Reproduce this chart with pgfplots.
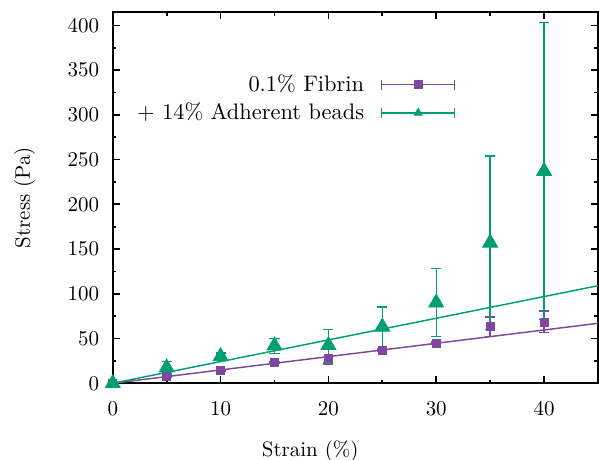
\documentclass[border=0pt]{standalone}
\usepackage{pgfplots}
\pgfplotsset{compat=1.18}
\definecolor{fib}{RGB}{126,72,160}
\definecolor{bead}{RGB}{0,158,115}
\pgfplotstableread{
x y ep em
0 0 0 0
5 8 1 1
10 14 1 1
15 23 1 1
20 28 10 7
25 37 1 1
30 45 1 1
35 63 11 11
40 68 13 11
}\fibrin
\pgfplotstableread{
x y ep em
0 0 0 0
5 17.5 7 7
10 30 4 4
15 42 8 9
20 42.5 17.5 20
25 63 22 24
30 90 38 38
35 157 97 97
40 237 166 166
}\beads
\begin{document}
\begin{tikzpicture}
\begin{axis}[name=ax, scale only axis, width=231.4pt, height=177.1pt,
 xmin=0, xmax=45, ymin=0, ymax=415,
 xtick={0,10,...,40}, minor xtick={5,15,...,45},
 ytick={0,50,...,400}, minor ytick={25,75,...,400},
 tick align=inside, xtick pos=both, ytick pos=both,
 major tick length=3.4pt, minor tick length=1.7pt,
 every tick/.style={black, line width=0.8pt},
 axis line style={line width=1pt},
 xlabel={Strain (\%)}, ylabel={Stress (Pa)},
 xlabel style={at={(rel axis cs:0.407,0)}, anchor=center, yshift=-32.6pt},
 ylabel style={at={(rel axis cs:-0.1815,0.5)}, anchor=center},
 xticklabel style={yshift=-5.5pt}, yticklabel style={xshift=-3pt},
 legend plot pos=right, legend cell align=right,
 legend style={draw=none, fill=none, at={(rel axis cs:0.72,0.855)}, anchor=north east, row sep=0pt,
   font=\fontsize{10.7}{12.5}\selectfont,
   /tikz/every odd column/.append style={column sep=6pt}},
]
\addplot[fib, line width=0.7pt, forget plot] coordinates {(0,0) (45,67)};
\addplot[bead, line width=0.7pt, forget plot] coordinates {(0,0) (45,109)};
\addplot[fib, only marks, mark=square*, mark size=1.9pt,
  error bars/.cd, y dir=both, y explicit,
  error bar style={line width=0.7pt}, error mark options={rotate=90, mark size=2.4pt, line width=0.7pt},
  /pgfplots/legend image code/.code={
    \draw[mark=none, line width=0.7pt] (0pt,0pt) -- (34.8pt,0pt) (0pt,-2.4pt) -- (0pt,2.4pt) (34.8pt,-2.4pt) -- (34.8pt,2.4pt);
    \draw[mark repeat=2, mark phase=2] plot coordinates {(0pt,0pt) (17.4pt,0pt) (34.8pt,0pt)};
  }]
  table[x=x, y=y, y error plus=ep, y error minus=em] {\fibrin};
\addlegendentry{0.1\% Fibrin}
\addplot[bead, only marks, mark=triangle*, mark size=4.1pt,
  error bars/.cd, y dir=both, y explicit,
  error bar style={line width=0.7pt}, error mark options={rotate=90, mark size=2.4pt, line width=0.7pt},
  /pgfplots/legend image code/.code={
    \draw[mark=none, line width=0.7pt] (0pt,0pt) -- (34.8pt,0pt) (0pt,-2.4pt) -- (0pt,2.4pt) (34.8pt,-2.4pt) -- (34.8pt,2.4pt);
    \draw[mark size=2.2pt, mark repeat=2, mark phase=2] plot coordinates {(0pt,0pt) (17.4pt,0pt) (34.8pt,0pt)};
  }]
  table[x=x, y=y, y error plus=ep, y error minus=em] {\beads};
\addlegendentry{+ 14\% Adherent beads}
\end{axis}
\pgfresetboundingbox
\path ([xshift=-53.8pt,yshift=-36.6pt]ax.south west) rectangle ([xshift=0.5pt,yshift=5.7pt]ax.north east);
\end{tikzpicture}
\end{document}
